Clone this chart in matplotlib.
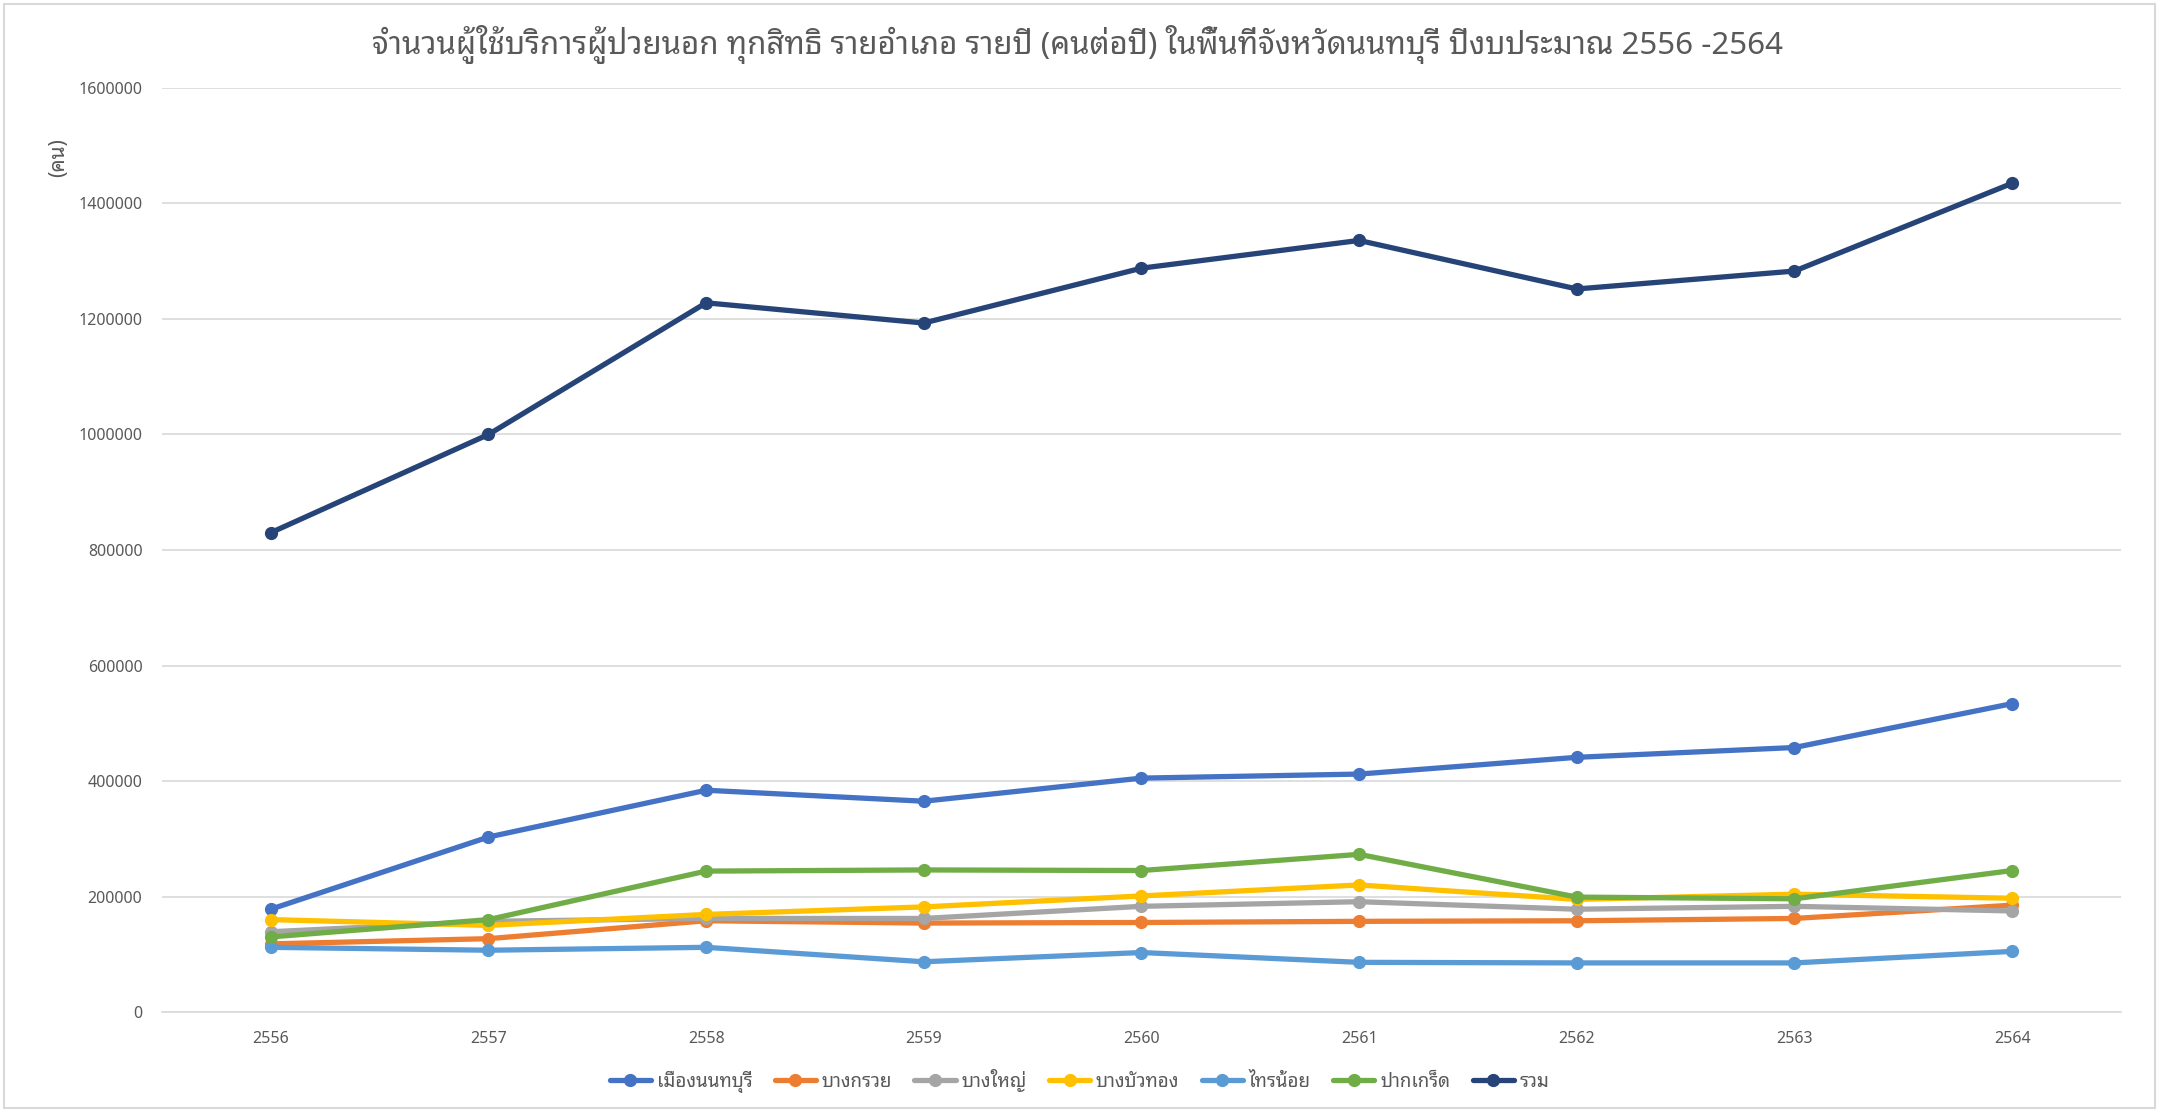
import matplotlib
matplotlib.use("Agg")
import matplotlib.pyplot as plt
from matplotlib.patches import Rectangle

years = ["2556", "2557", "2558", "2559", "2560", "2561", "2562", "2563", "2564"]
mueang = [178000, 303000, 384000, 365000, 405000, 412000, 441000, 458000, 534000]
bangkruai = [118000, 127000, 158000, 154000, 155000, 157000, 158000, 162000, 185000]
bangyai = [139000, 157000, 162000, 162000, 183000, 191000, 178000, 183000, 175000]
bangbuathong = [160000, 150000, 169000, 182000, 201000, 220000, 195000, 204000, 197000]
sainoi = [112000, 107000, 112000, 87000, 103000, 86000, 85000, 85000, 105000]
pakkret = [130000, 160000, 244000, 246000, 245000, 273000, 199000, 196000, 245000]
total = [830000, 1000000, 1228000, 1193000, 1288000, 1336000, 1252000, 1283000, 1435000]

series_names = ["เมืองนนทบุรี", "บางกรวย", "บางใหญ่", "บางบัวทอง", "ไทรน้อย", "ปากเกร็ด", "รวม"]
series_values = [mueang, bangkruai, bangyai, bangbuathong, sainoi, pakkret, total]
colors = ["#4472C4", "#ED7D31", "#A5A5A5", "#FFC000", "#5B9BD5", "#70AD47", "#264478"]

thai = ["Noto Sans Thai Looped", "Noto Sans", "DejaVu Sans"]
num_font = ["Noto Sans", "DejaVu Sans"]
txt = "#595959"

fig = plt.figure(figsize=(21.59, 11.11), dpi=100)
ax = fig.add_axes([0.075, 0.0891, 0.9074, 0.8317])

x = list(range(len(years)))
for name, vals, c in zip(series_names, series_values, colors):
    ax.plot(x, vals, color=c, lw=3.8, marker="o", ms=8.5, label=name,
            solid_joinstyle="round", solid_capstyle="round")

ax.set_xlim(-0.5, len(years) - 0.5)
ax.set_ylim(0, 1600000)
ax.set_yticks(range(0, 1600001, 200000))
ax.set_yticklabels([str(v) for v in range(0, 1600001, 200000)])
ax.set_xticks(x)
ax.set_xticklabels(years)
ax.grid(axis="y", color="#D9D9D9", lw=1.2)
ax.set_axisbelow(True)
for s in ["top", "right", "left"]:
    ax.spines[s].set_visible(False)
ax.spines["bottom"].set_color("#D9D9D9")
ax.spines["bottom"].set_linewidth(1.2)
ax.tick_params(length=0, colors=txt, labelsize=11.5, pad=14)
ax.tick_params(axis="y", pad=14)
for lab in ax.get_xticklabels() + ax.get_yticklabels():
    lab.set_family(num_font)

fig.text(0.499, 0.9595, "จำนวนผู้ใช้บริการผู้ป่วยนอก ทุกสิทธิ รายอำเภอ รายปี (คนต่อปี) ในพื้นที่จังหวัดนนทบุรี ปีงบประมาณ 2556 -2564",
         ha="center", va="center", fontsize=22.5, color=txt, family=thai)
fig.text(0.027, 0.858, "(คน)", ha="center", va="center", rotation=90,
         fontsize=15, color=txt, family=thai)

leg = fig.legend(loc="center", bbox_to_anchor=(0.5, 0.027), ncol=7, frameon=False,
                 prop={"family": thai, "size": 13.5}, handlelength=2.2,
                 columnspacing=1.2, handletextpad=0.3)
for t in leg.get_texts():
    t.set_color(txt)

fig.patches.append(Rectangle((0.002, 0.003), 0.996, 0.993, transform=fig.transFigure,
                             fill=False, edgecolor="#D9D9D9", lw=1.5))
fig.savefig("out.png", dpi=100, facecolor="white")
